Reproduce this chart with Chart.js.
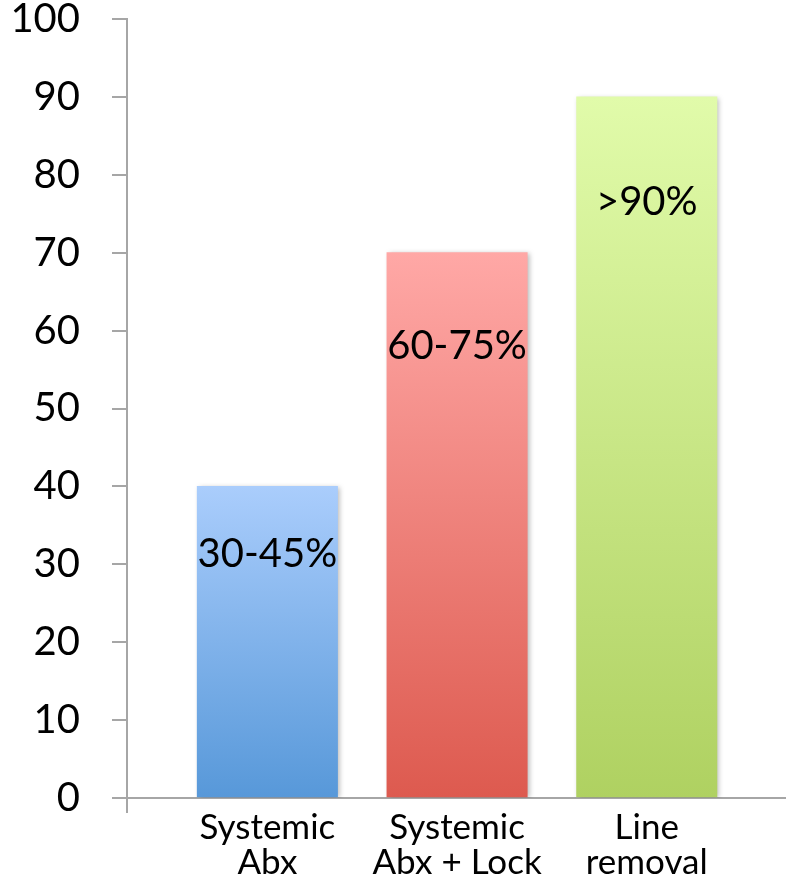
<!DOCTYPE html>
<html>
<head>
<meta charset="utf-8">
<script src="https://cdn.jsdelivr.net/npm/chart.js@4/dist/chart.umd.min.js"></script>
<style>
  body { margin: 0; background: #fff; }
  #wrap { width: 786px; height: 894px; }
</style>
</head>
<body>
<div id="wrap"><canvas id="grafica" width="786" height="894"></canvas></div>
<script>
// categories and values
const categorias = [['Systemic', 'Abx'], ['Systemic', 'Abx + Lock'], ['Line', 'removal']];
const valores = [40, 70, 90];
const etiquetasBarra = ['30-45%', '60-75%', '>90%'];
const alturaEtiqueta = [31.4, 58.1, 76.6];   // where the text boxes sit, in y units
const ticksY = [0, 10, 20, 30, 40, 50, 60, 70, 80, 90, 100];

const coloresArriba = ['#aacdfc', '#ffa8a6', '#e1fbaa'];
const coloresAbajo = ['#5798d9', '#dd5a4f', '#afd161'];

const xMin = 0.26;
const xMax = 3.734;
const gris = '#a6a6a6';
const fuente = 'Lato, "Open Sans", sans-serif';

function gradiente(ctx) {
    const chart = ctx.chart;
    const i = ctx.dataIndex;
    if (!chart.chartArea || i === undefined) return coloresAbajo[i || 0];
    const y = chart.scales.y;
    const g = chart.ctx.createLinearGradient(0, y.getPixelForValue(valores[i]), 0, y.getPixelForValue(0));
    g.addColorStop(0, coloresArriba[i]);
    g.addColorStop(1, coloresAbajo[i]);
    return g;
}

// shadow on bars + text boxes inside bars
const textosBarra = {
    id: 'textosBarra',
    beforeDatasetsDraw(chart) {
        const c = chart.ctx;
        c.save();
        c.shadowColor = 'rgba(0,0,0,0.28)';
        c.shadowBlur = 5;
        c.shadowOffsetX = 2;
        c.shadowOffsetY = 1;
    },
    afterDatasetsDraw(chart) {
        const c = chart.ctx;
        c.restore();
        c.save();
        c.font = '40px ' + fuente;
        c.fillStyle = '#000';
        c.textAlign = 'center';
        c.textBaseline = 'alphabetic';
        etiquetasBarra.forEach(function(t, i) {
            const x = chart.scales.x.getPixelForValue(i + 1);
            const y = chart.scales.y.getPixelForValue(alturaEtiqueta[i]);
            c.fillText(t, x, y + 14);
        });
        c.restore();
    }
};

const datos = {
    datasets: [{
        data: valores.map(function(v, i) { return { x: i + 1, y: v }; }),
        backgroundColor: gradiente,
        borderWidth: 0,
        barPercentage: 1,
        categoryPercentage: 1
    }]
};

const configuracion = {
    type: 'bar',
    data: datos,
    plugins: [textosBarra],
    options: {
        responsive: false,
        animation: false,
        layout: { padding: { top: 19, right: 0, left: 0, bottom: 0 } },
        plugins: { legend: { display: false }, tooltip: { enabled: false } },
        scales: {
            x: {
                type: 'linear',
                min: xMin,
                max: xMax,
                offset: false,
                afterBuildTicks: function(scale) {
                    scale.ticks = [{ value: xMin }].concat(categorias.map(function(c, i) { return { value: i + 1 }; }));
                },
                afterFit: function(scale) {
                    scale.height = 96;
                    scale.paddingLeft = 0;
                    scale.paddingRight = 0;
                },
                ticks: {
                    autoSkip: false,
                    maxRotation: 0,
                    padding: -3,
                    color: '#000',
                    font: { family: fuente, size: 35, lineHeight: 1.0 },
                    callback: function(v) { return categorias[v - 1] || ''; }
                },
                grid: {
                    offset: false,
                    drawOnChartArea: false,
                    tickLength: 15,
                    lineWidth: 2,
                    color: function(ctx) { return ctx.tick && ctx.tick.value < 1 ? gris : 'rgba(0,0,0,0)'; }
                },
                border: { color: gris, width: 2 }
            },
            y: {
                min: 0,
                max: 100,
                afterBuildTicks: function(scale) {
                    scale.ticks = ticksY.map(function(v) { return { value: v }; });
                },
                afterFit: function(scale) {
                    scale.width = 127;
                    scale.paddingTop = 0;
                    scale.paddingBottom = 0;
                },
                ticks: {
                    padding: 32,
                    color: '#000',
                    font: { family: fuente, size: 40 }
                },
                grid: {
                    drawOnChartArea: false,
                    tickLength: 15,
                    lineWidth: 2,
                    color: gris
                },
                border: { color: gris, width: 2 }
            }
        }
    }
};

new Chart(document.getElementById('grafica'), configuracion);
</script>
</body>
</html>
